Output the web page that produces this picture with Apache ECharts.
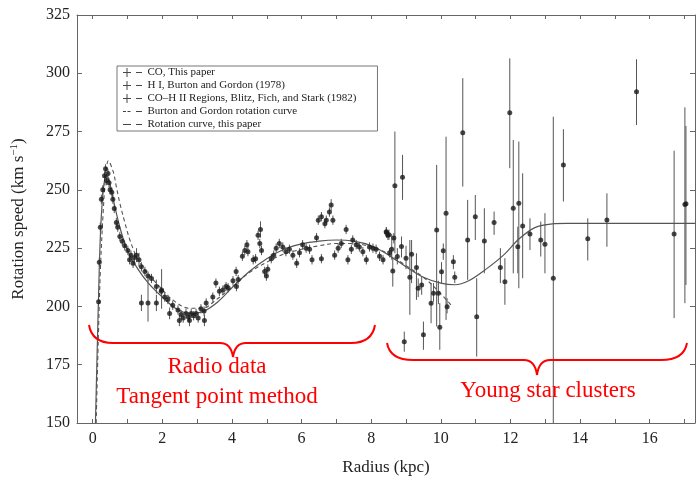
<!DOCTYPE html>
<html>
<head>
<meta charset="utf-8">
<script src="https://cdn.jsdelivr.net/npm/echarts@6/dist/echarts.min.js"></script>
<style>html,body{margin:0;padding:0;background:#fff}#c{width:696px;height:481px}</style>
</head>
<body>
<div id="c"></div>
<script>
// ---- CO, this paper (radius kpc, speed km/s, half error) ----
const coR = [0.17,0.19,0.22,0.25,0.29,0.34,0.37,0.40,0.44,0.47,0.50,0.55,0.58,0.62,0.68,0.72,0.78,0.85,0.92,1.01,1.06,1.10,1.16,1.20,1.26,1.33,1.40,1.50,1.59,1.69,1.83,1.97,2.07,2.16,2.30,2.45,2.54,2.60,2.68,2.75,2.83,2.90,2.97,3.03,3.11,3.20,3.26,3.45,3.54,3.64,3.74,3.83,3.89,4.03,4.12,4.13,4.18,4.30,4.37,4.43,4.46,4.61,4.68,4.75,4.80,4.82,4.85,4.94,4.99,5.03,5.13,5.20,5.27,5.36,5.46,5.55,5.65,5.75,5.86,5.94,6.03,6.13,6.23,6.30,6.43,6.48,6.57,6.57,6.67,6.71,6.80,6.85,6.90,6.95,7.05,7.14,7.28,7.33,7.43,7.47,7.57,7.66,7.76,7.86,7.95,8.05,8.14,8.24,8.34,8.43,8.48,8.53];
const coV = [202,219,234,246,250,256,259,254,257,253,250,249,246,242,236,234,230,228,226,224,220,222,218.5,221,222,220,217,215,213,212,208.5,206.5,204,203,200.5,198.5,196.5,195,197,195.5,197,196,197,195,199,198,201.5,204,210,206.5,207,208.5,208,211,215,208.5,211.5,221.5,224,226.5,223.5,220,220.5,230.5,227,233,224,215,213,216,220.5,222,225,227,225.5,223.5,224.5,222,218.5,223,226.5,225,224.5,220,229.5,237,220.5,238.5,235.5,237,240.5,243.5,237,222,225,227,233,220,224.5,228.5,226.5,225.5,223.5,220,225.5,225,224.5,221.5,220,232,230.5,223];
const coE = [2,2,2,2,2,2,2,2,2,2,2,2,2,2,2,2,2,2,2,2,2,2,2,2,3,3,2,2,2,2,3,2,2,2,2,2,2,2,2,2,2,2,2,2,2,2,2,2,2,2,2,2,2,2,2,2,2,2,2,2,2,2,2,2,2,3.5,2,2,2,2,2,2,2,2,2,2,2,2,2,2,2,2,2,2,2,2,2,2,2,2,2,2.5,2,2,2,2,2,2,2,2,2,2,2,2,2,2,2,2,2,2,2,2];

// ---- H I, Burton and Gordon (1978) ----
const hiR  = [1.40,1.59,1.83,1.98,2.21,2.49,2.78,3.21,8.44,8.51,8.59,8.62,8.65,8.75,8.87,9.00,9.11,9.16,9.30,9.35,9.45,9.72,9.79,9.93,10.02,10.07,10.18,10.36,10.40];
const hiV  = [201.5,201.5,201.5,207,197,194,194,194,231.7,230.7,224.5,215.2,229.3,221.4,225.7,220.7,212.5,222.4,216.7,207.8,209.2,201.4,205.7,205.7,214.9,223.9,199.9,219.2,212.5];
const hiLo = [198,193.5,198,199,194.5,191.5,191.5,191.5,229.5,228.5,220,208.5,227,218,221,216,196.4,210,202.8,204,205,192.8,202,201,210,220,197,216,210];
const hiHi = [205,211.5,205,216,199.5,196.5,196.5,196.5,234,233,231,220.7,231.5,225,230,226,228.5,228.5,222.8,212,213,210,210,211,219,227,203.5,222,215];

// ---- CO-H II regions, Blitz, Fich and Stark (1982) ----
const hiiR  = [8.68,8.90,8.95,9.50,9.88,9.97,10.15,10.63,10.77,10.99,11.03,11.25,11.53,11.71,11.84,11.98,12.08,12.21,12.24,12.35,12.56,12.87,12.99,13.23,13.52,14.22,14.77,15.62,16.70,17.01,17.04];
const hiiV  = [251.8,255.4,184.9,187.8,232.8,191.1,240,274.5,228.5,238.5,195.6,228.1,236,216.7,210.6,283.1,242.1,225.6,244.3,234.5,231.1,228.5,226.7,212.1,260.7,229,237.1,292.1,231.1,243.7,244];
const hiiLo = [222.8,245.7,180.6,181.4,191.4,181.4,194.2,251.4,211.4,228.5,178.5,214.2,230.7,210,200.7,259.3,214.2,214.2,207.8,212.1,224.2,221.4,214.2,150,245,219.7,225.6,277.8,195,201.4,209.2];
const hiiHi = [275,265,189.2,193.5,260.7,201.4,272.8,297.9,245.7,247.8,212.1,242.1,240.7,225,220.7,306.4,271.4,234.2,270.7,257.1,237.8,236.4,240,281.4,276,237.8,248.5,306,266.8,285.4,277.4];

// ---- Burton and Gordon rotation curve ----
const bgR = [0.10,0.16,0.22,0.30,0.37,0.45,0.59,0.68,0.78,0.93,1.07,1.26,1.54,1.92,2.30,2.78,3.16,3.54,4.02,4.50,5.00,5.50,6.00,6.50,7.00,7.50,8.00,8.50,9.00,9.50,9.90,10.30];
const bgV = [150,185,215,240,255,262.5,257.8,251.4,244.3,235.7,228.5,221.4,214.9,208.5,202.8,199.2,199.2,202.8,208.5,214.5,219,222.5,224.5,226,227,227,225.5,222.5,217.5,212.5,207,200.5];

// ---- Rotation curve, this paper ----
const rcR = [0.08,0.12,0.17,0.22,0.28,0.34,0.40,0.47,0.55,0.65,0.80,1.00,1.30,1.60,2.00,2.40,2.80,3.20,3.60,4.00,4.50,5.00,5.50,6.00,6.50,7.00,7.50,8.00,8.50,9.00,9.50,10.00,10.40,10.80,11.30,11.80,12.25,12.70,13.20,13.60,14.50,15.50,16.50,17.30];
const rcV = [150,175,205,230,246,254,256,254,249,242,233,224,216,210,204,199,197,198,202,208,215,220.5,224.5,226.8,228,228.5,228,226,222,217,212.5,210,209.3,211,216,222,229,233.8,235.4,235.6,235.6,235.6,235.6,235.6];

// ---- ticks ----
const xTicks = [0,1,2,3,4,5,6,7,8,9,10,11,12,13,14,15,16,17];
const xLabels = [0,2,4,6,8,10,12,14,16];

const FONT = '"Liberation Serif", "DejaVu Serif", serif';
const AX = '#666';

const errData = [];
coR.forEach((r,i)=>errData.push([r, coV[i]-coE[i], coV[i]+coE[i]]));
hiR.forEach((r,i)=>errData.push([r, hiLo[i], hiHi[i]]));
hiiR.forEach((r,i)=>errData.push([r, hiiLo[i], hiiHi[i]]));

const zip = (a,b)=>a.map((v,i)=>[v,b[i]]);

const crossIcon = 'path://M0,4H8V5H0Z M3.5,0H4.5V9H3.5Z M13,4H19V5H13Z';
const bgIcon = 'path://M0,4H3V5H0Z M4.5,4H7.5V5H4.5Z M13,4H19V5H13Z M0,0H0.01V9H0Z';
const rcIcon = 'path://M0,4H8V5H0Z M13,4H19V5H13Z M0,0H0.01V9H0Z';

// brace annotation builder (pixel layout of the red hand-drawn braces)
function brace(xl, xr, xc, yTip, yBar, yCusp, rr) {
  const st = {stroke:'#ff0000', lineWidth:2, fill:'none'};
  const q = (x1,y1,cx,cy,x2,y2)=>({type:'bezierCurve', z:10, silent:true,
    shape:{x1:x1,y1:y1,cpx1:cx,cpy1:cy,x2:x2,y2:y2}, style:st});
  const l = (x1,y1,x2,y2)=>({type:'line', z:10, silent:true, shape:{x1:x1,y1:y1,x2:x2,y2:y2}, style:st});
  return [
    q(xl,yTip, xl+3,yBar, xl+rr,yBar),
    l(xl+rr,yBar, xc-13,yBar),
    q(xc-13,yBar, xc-2,yBar, xc,yCusp),
    q(xc,yCusp, xc+2,yBar, xc+13,yBar),
    l(xc+13,yBar, xr-rr,yBar),
    q(xr-rr,yBar, xr-3,yBar, xr,yTip)
  ];
}

const chart = echarts.init(document.getElementById('c'), null, {renderer:'canvas'});
const option = {
  animation:false,
  backgroundColor:'#fff',
  grid:{left:77, right:1, top:15, bottom:58, show:false},
  legend:{
    left:117, top:66, orient:'vertical', itemGap:0, itemWidth:20, itemHeight:9,
    padding:[0,21,0,6], borderColor:'#777', borderWidth:1,
    textStyle:{fontFamily:FONT, fontSize:11, color:'#222', lineHeight:13},
    itemStyle:{borderWidth:0},
    data:[
      {name:'CO, This paper', icon:crossIcon},
      {name:'H I, Burton and Gordon (1978)', icon:crossIcon},
      {name:'CO\u2013H II Regions, Blitz, Fich, and Stark (1982)', icon:crossIcon},
      {name:'Burton and Gordon rotation curve', icon:bgIcon},
      {name:'Rotation curve, this paper', icon:rcIcon}
    ]
  },
  xAxis:[{
    type:'value', min:-0.45, max:17.3, position:'bottom',
    axisLine:{show:true, onZero:false, lineStyle:{color:AX, width:1}},
    axisTick:{show:true, inside:true, length:4, customValues:xTicks, lineStyle:{color:AX}},
    axisLabel:{customValues:xLabels, fontFamily:FONT, fontSize:16, color:'#222', margin:8},
    splitLine:{show:false},
    name:'Radius (kpc)', nameLocation:'middle', nameGap:36,
    nameTextStyle:{fontFamily:FONT, fontSize:17, color:'#222'}
  },{
    type:'value', min:-0.45, max:17.3, position:'top',
    axisLine:{show:true, onZero:false, lineStyle:{color:AX, width:1}},
    axisTick:{show:true, inside:true, length:4, customValues:xTicks, lineStyle:{color:AX}},
    axisLabel:{show:false}, splitLine:{show:false}
  }],
  yAxis:[{
    type:'value', min:150, max:325, interval:25, position:'left',
    axisLine:{show:true, onZero:false, lineStyle:{color:AX, width:1}},
    axisTick:{show:true, inside:true, length:5, lineStyle:{color:AX}},
    axisLabel:{fontFamily:FONT, fontSize:16, color:'#222', margin:7},
    splitLine:{show:false},
    name:'Rotation speed (km s{sup|\u22121})', nameLocation:'middle', nameGap:48, nameRotate:90,
    nameTextStyle:{fontFamily:FONT, fontSize:17, color:'#222',
      rich:{sup:{fontFamily:FONT, fontSize:11, color:'#222', verticalAlign:'top', padding:[0,0,9,0]}}}
  },{
    type:'value', min:150, max:325, interval:25, position:'right',
    axisLine:{show:true, onZero:false, lineStyle:{color:AX, width:1}},
    axisTick:{show:true, inside:true, length:5, lineStyle:{color:AX}},
    axisLabel:{show:false}, splitLine:{show:false}
  }],
  series:[
    {
      name:'errbars', type:'custom', xAxisIndex:0, yAxisIndex:0, z:2,
      data:errData, encode:{x:0, y:[1,2]},
      renderItem:function(params, api){
        const p1 = api.coord([api.value(0), api.value(1)]);
        const p2 = api.coord([api.value(0), api.value(2)]);
        return {type:'line', shape:{x1:p1[0], y1:p1[1], x2:p2[0], y2:p2[1]},
          style:{stroke:'#555', lineWidth:1}};
      }
    },
    {
      name:'Burton and Gordon rotation curve', type:'line', data:zip(bgR,bgV),
      smooth:0.35, showSymbol:false, symbol:'none', color:'#444', z:3,
      lineStyle:{color:'#555', width:1.1, type:[4,3]}
    },
    {
      name:'Rotation curve, this paper', type:'line', data:zip(rcR,rcV),
      smooth:0.35, showSymbol:false, symbol:'none', color:'#444', z:3,
      lineStyle:{color:'#555', width:1.2}
    },
    {
      name:'CO, This paper', type:'scatter', data:zip(coR,coV),
      symbol:'circle', symbolSize:5, itemStyle:{color:'#1a1a1a'}, z:4
    },
    {
      name:'H I, Burton and Gordon (1978)', type:'scatter', data:zip(hiR,hiV),
      symbol:'circle', symbolSize:5, itemStyle:{color:'#1a1a1a'}, z:4
    },
    {
      name:'CO\u2013H II Regions, Blitz, Fich, and Stark (1982)', type:'scatter', data:zip(hiiR,hiiV),
      symbol:'circle', symbolSize:5, itemStyle:{color:'#1a1a1a'}, z:4
    }
  ],
  graphic:[].concat(
    brace(89, 375, 233, 325, 343, 357, 24),
    brace(387, 687, 537, 343, 360, 375, 26),
    [
    {type:'text', z:10, style:{text:'Radio data', x:217, y:367, align:'center', verticalAlign:'middle',
      font:'23px "Liberation Serif", serif', fill:'#ff0000'}},
    {type:'text', z:10, style:{text:'Tangent point method', x:217, y:397, align:'center', verticalAlign:'middle',
      font:'23px "Liberation Serif", serif', fill:'#ff0000'}},
    {type:'text', z:10, style:{text:'Young star clusters', x:548, y:391, align:'center', verticalAlign:'middle',
      font:'23px "Liberation Serif", serif', fill:'#ff0000'}}
    ])
};
chart.setOption(option);
</script>
</body>
</html>
